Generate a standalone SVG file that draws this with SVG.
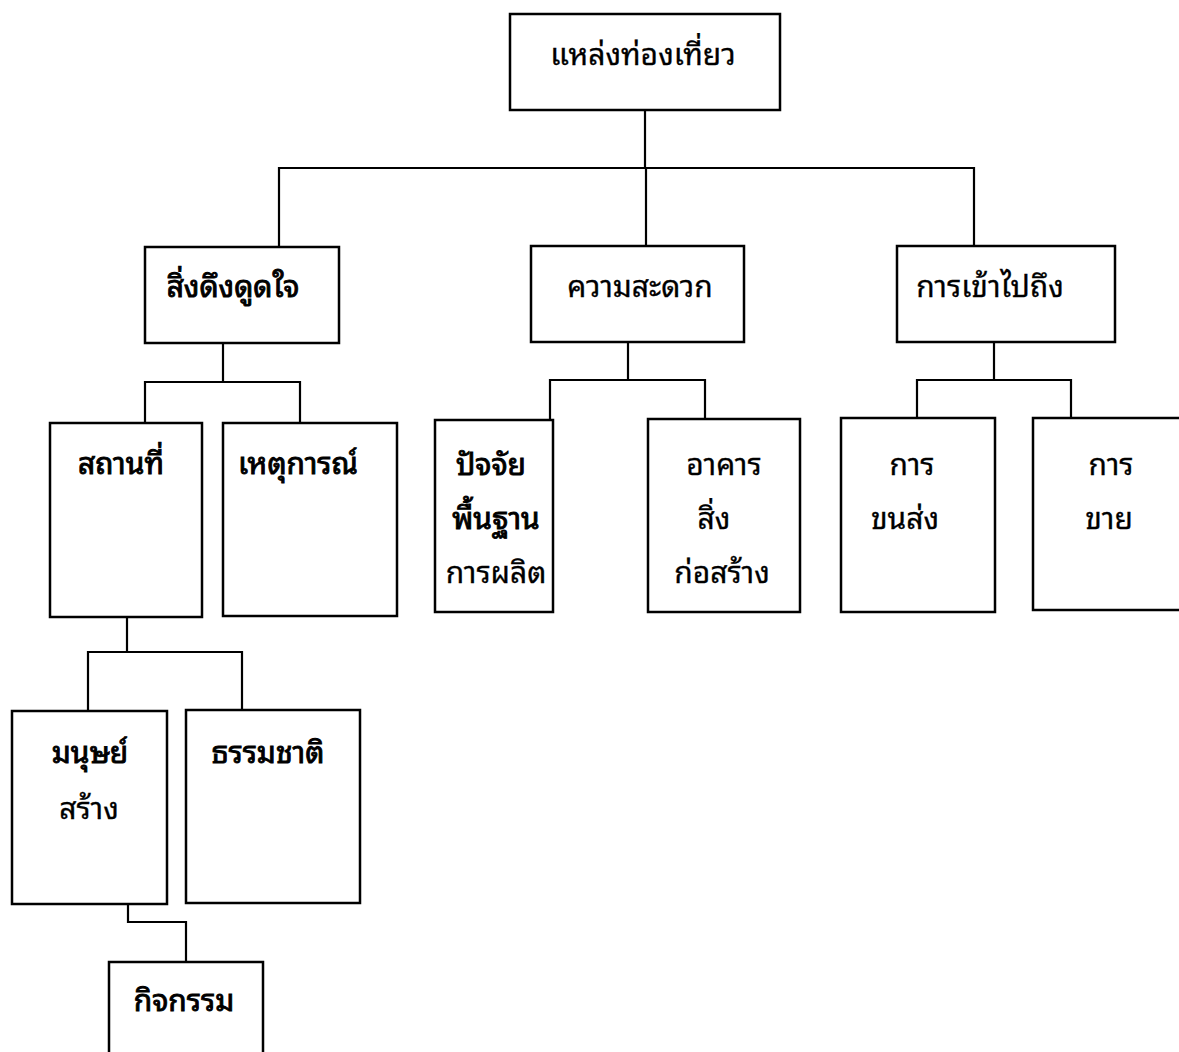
<svg xmlns="http://www.w3.org/2000/svg" width="1179" height="1052" viewBox="0 0 1179 1052">
<style>
.box{fill:#fff;stroke:#000;stroke-width:2.5}
.ln{fill:none;stroke:#000;stroke-width:2.2}
.t{font-family:"Noto Sans Thai Looped","Noto Serif Thai","Noto Sans Thai","Loma","Garuda","Norasi","DejaVu Sans",sans-serif;font-size:30px;fill:#000;stroke:#000;stroke-width:0.3px;text-anchor:middle}
.b{stroke-width:0.9px}
</style>
<rect width="1179" height="1052" fill="#fff"/>
<g id="connectors">
<polyline class="ln" points="645,110 645,168"/>
<polyline class="ln" points="279,247 279,168 974,168 974,246"/>
<polyline class="ln" points="646,168 646,246"/>
<polyline class="ln" points="223,343 223,382"/>
<polyline class="ln" points="145,423 145,382 300,382 300,423"/>
<polyline class="ln" points="628,342 628,380"/>
<polyline class="ln" points="550,420 550,380 705,380 705,419"/>
<polyline class="ln" points="994,342 994,380"/>
<polyline class="ln" points="917,418 917,380 1071,380 1071,418"/>
<polyline class="ln" points="127,617 127,652"/>
<polyline class="ln" points="88,711 88,652 242,652 242,710"/>
<polyline class="ln" points="128,904 128,922 186,922 186,962"/>
</g>
<g id="n0"><rect class="box" x="510" y="14" width="270" height="96"/><text class="t" x="643" y="65">แหล่งท่องเที่ยว</text></g>
<g id="n1"><rect class="box" x="145" y="247" width="194" height="96"/><text class="t b" x="233" y="297">สิ่งดึงดูดใจ</text></g>
<g id="n2"><rect class="box" x="531" y="246" width="213" height="96"/><text class="t" x="640" y="297">ความสะดวก</text></g>
<g id="n3"><rect class="box" x="897" y="246" width="218" height="96"/><text class="t" x="990" y="297">การเข้าไปถึง</text></g>
<g id="n4"><rect class="box" x="50" y="423" width="152" height="194"/><text class="t b" x="121" y="474">สถานที่</text></g>
<g id="n5"><rect class="box" x="223" y="423" width="174" height="193"/><text class="t b" x="298" y="474">เหตุการณ์</text></g>
<g id="n6"><rect class="box" x="435" y="420" width="118" height="192"/><text class="t b" x="491" y="475">ปัจจัย</text><text class="t b" x="496" y="529">พื้นฐาน</text><text class="t" x="496" y="583">การผลิต</text></g>
<g id="n7"><rect class="box" x="648" y="419" width="152" height="193"/><text class="t" x="724" y="475">อาคาร</text><text class="t" x="714" y="529">สิ่ง</text><text class="t" x="722" y="583">ก่อสร้าง</text></g>
<g id="n8"><rect class="box" x="841" y="418" width="154" height="194"/><text class="t" x="912" y="475">การ</text><text class="t" x="905" y="529">ขนส่ง</text></g>
<g id="n9"><rect class="box" x="1033" y="418" width="160" height="192"/><text class="t" x="1111" y="475">การ</text><text class="t" x="1109" y="529">ขาย</text></g>
<g id="n10"><rect class="box" x="12" y="711" width="155" height="193"/><text class="t b" x="90" y="763">มนุษย์</text><text class="t" x="89" y="819">สร้าง</text></g>
<g id="n11"><rect class="box" x="186" y="710" width="174" height="193"/><text class="t b" x="268" y="763">ธรรมชาติ</text></g>
<g id="n12"><rect class="box" x="109" y="962" width="154" height="110"/><text class="t b" x="184" y="1011">กิจกรรม</text></g>
</svg>
